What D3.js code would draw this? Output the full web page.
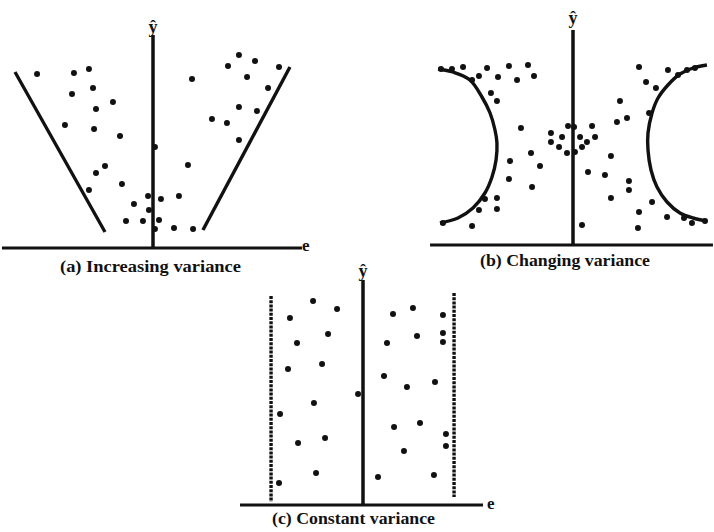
<!DOCTYPE html>
<html><head><meta charset="utf-8">
<script src="https://cdn.jsdelivr.net/npm/d3@7"></script>
<style>body{margin:0;background:#fff}svg{display:block}</style>
</head><body>
<svg id="c" width="714" height="532"></svg>
<script>
// ---- data (e = horizontal residual axis, y = ŷ vertical axis) ----
const captions = ["(a) Increasing variance", "(b) Changing variance", "(c) Constant variance"];
const axisLabelY = "ŷ";
const axisLabelE = "e";

// Panel (a): increasing variance
const pointsA = [
  [-7.73,8.7],[-5.27,8.75],[-4.27,8.95],[-5.4,7.7],[-4.0,8.0],[-2.67,7.3],[-3.8,6.95],
  [-5.87,6.15],[-3.93,5.95],[-2.2,5.6],[0.13,5.05],[-3.2,4.1],[-3.8,3.75],[-2.07,3.2],
  [-4.27,2.9],[-0.33,2.6],[0.53,2.45],[1.73,2.6],[-1.27,2.2],[-0.27,1.9],[-1.8,1.35],
  [-0.67,1.35],[0.4,1.4],[0.13,0.95],[1.4,1.0],[2.67,0.95],[2.33,4.15],[2.6,8.45],
  [3.93,6.45],[4.93,6.25],[5.73,5.4],[5.73,7.05],[6.93,6.85],[5.0,9.1],[5.73,9.65],
  [6.8,9.35],[6.27,8.55],[8.4,9.05],[7.67,8.0]
];
const boundsA = [
  [[-9.2,8.8],[-3.2,0.8]],
  [[3.33,0.9],[9.13,9.05]]
];
const axisA = [-10.07, 9.93, 10.65]; // eMin, eMax, yMax

// Panel (b): changing variance
const pointsB = [
  [-8.8,8.8],[-8.07,8.8],[-7.33,8.9],[-6.73,8.25],[-6.27,8.45],[-5.73,8.85],[-5.0,8.4],
  [-4.27,8.95],[-3.73,8.25],[-3.0,9.0],[-2.6,8.45],[-5.47,7.6],[-5.07,7.2],[-3.47,5.85],
  [-4.2,4.2],[-2.8,4.6],[-2.2,3.95],[-4.27,3.3],[-2.73,2.9],[-5.87,2.3],[-5.07,2.35],
  [-6.27,1.75],[-5.07,1.8],[-6.73,0.95],[-8.67,1.1],[-0.33,5.95],[-1.47,5.6],[-0.73,5.4],
  [-1.47,5.15],[-0.93,4.9],[-0.4,4.6],[0.13,4.65],[0.6,4.9],[0.47,5.4],[0.93,5.15],
  [1.47,5.4],[1.27,5.95],[0.07,5.9],[1.0,3.65],[2.13,3.5],[2.53,4.45],[2.93,6.15],
  [3.6,6.35],[3.13,7.2],[2.53,2.35],[3.73,3.2],[3.73,2.75],[0.6,1.0],[4.4,8.9],
  [4.87,8.15],[5.53,7.85],[6.33,8.75],[7.0,8.5],[7.6,8.75],[8.13,8.85],[5.07,6.6],
  [5.27,2.15],[4.4,1.65],[4.33,0.85],[6.27,1.4],[7.4,1.35],[7.93,1.1],[8.8,1.2]
];
const arcLeftB = [
  [-9.0,8.8],[-8.0,8.65],[-6.87,8.25],[-6.07,7.4],[-5.53,6.6],[-5.2,5.75],[-5.07,5.1],
  [-5.13,4.25],[-5.4,3.4],[-5.87,2.6],[-6.67,1.85],[-7.67,1.35],[-8.87,1.1]
];
const arcRightB = [
  [8.93,9.0],[8.0,8.85],[7.13,8.55],[6.33,8.0],[5.67,7.35],[5.27,6.6],[5.0,5.6],
  [5.0,4.75],[5.2,3.75],[5.6,2.9],[6.27,2.15],[7.13,1.6],[8.0,1.35],[8.93,1.2]
];
const axisB = [-9.53, 9.33, 10.75];

// Panel (c): constant variance
const pointsC = [
  [-3.33,10.2],[-1.73,9.8],[-4.87,9.35],[-2.33,8.55],[-4.4,8.1],[-2.73,7.05],[-5.0,6.8],
  [-0.33,5.55],[-3.27,5.1],[-5.53,4.55],[-2.53,3.35],[-4.33,3.1],[-3.13,1.6],[-5.6,1.1],
  [3.33,9.85],[2.0,9.55],[5.33,9.5],[3.6,8.45],[5.33,8.6],[5.33,8.15],[1.6,8.1],
  [1.4,6.45],[4.8,6.15],[2.93,5.9],[3.8,4.1],[2.07,3.9],[5.53,3.55],[5.53,2.95],
  [2.73,2.7],[1.0,1.4],[4.73,1.5]
];
const boundsC = [
  [[-6.13,10.45],[-6.13,0.15]],
  [[6.07,10.6],[6.07,0.4]]
];
const axisC = [-8.2, 8.0, 11.25];

// ---- drawing ----
const svg = d3.select("#c");
const ink = "#111";

function makeScales(x0, x1, yBase, yTop) {
  return {
    x: d3.scaleLinear().domain([-10, 10]).range([x0, x1]),
    y: d3.scaleLinear().domain([0, 10]).range([yBase, yTop])
  };
}

function drawAxes(g, s, ax, showE, yLabBase, eLab) {
  g.append("line")
    .attr("x1", s.x(ax[0])).attr("x2", s.x(ax[1]))
    .attr("y1", s.y(0)).attr("y2", s.y(0))
    .attr("stroke", ink).attr("stroke-width", 3);
  g.append("line")
    .attr("x1", s.x(0)).attr("x2", s.x(0))
    .attr("y1", s.y(0) + 1).attr("y2", s.y(ax[2]))
    .attr("stroke", ink).attr("stroke-width", 3.5);
  g.append("text").text(axisLabelY)
    .attr("x", s.x(0)).attr("y", yLabBase)
    .attr("text-anchor", "middle")
    .attr("font-family", "Liberation Serif, serif").attr("font-weight", "bold")
    .attr("font-size", 18).attr("fill", ink);
  if (showE) {
    g.append("text").text(axisLabelE)
      .attr("x", eLab[0]).attr("y", eLab[1])
      .attr("font-family", "Liberation Serif, serif").attr("font-weight", "bold")
      .attr("font-size", 17).attr("fill", ink);
  }
}

function drawPoints(g, s, pts) {
  g.selectAll("circle.p").data(pts).enter().append("circle")
    .attr("class", "p")
    .attr("cx", d => s.x(d[0])).attr("cy", d => s.y(d[1]))
    .attr("r", 3).attr("fill", ink);
}

function caption(text, cx, base, width) {
  svg.append("text").text(text)
    .attr("x", cx).attr("y", base)
    .attr("text-anchor", "middle")
    .attr("font-family", "Liberation Serif, serif")
    .attr("font-weight", "bold")
    .attr("font-size", 17).attr("fill", ink)
    .attr("textLength", width).attr("lengthAdjust", "spacingAndGlyphs");
}

const line = (s) => d3.line().x(d => s.x(d[0])).y(d => s.y(d[1]));

// Panel A
const sA = makeScales(3, 303, 248, 48);
const gA = svg.append("g");
boundsA.forEach(b => gA.append("path").attr("d", line(sA)(b))
  .attr("stroke", ink).attr("stroke-width", 3.4).attr("fill", "none"));
drawAxes(gA, sA, axisA, true, 33, [302, 251]);
drawPoints(gA, sA, pointsA);
caption(captions[0], 150.5, 272, 181);

// Panel B
const sB = makeScales(423, 723, 245, 45);
const gB = svg.append("g");
[arcLeftB, arcRightB].forEach(a => gB.append("path")
  .attr("d", line(sB).curve(d3.curveCatmullRom)(a))
  .attr("stroke", ink).attr("stroke-width", 3.4).attr("fill", "none"));
drawAxes(gB, sB, axisB, false, 24, null);
drawPoints(gB, sB, pointsB);
caption(captions[1], 565, 266, 170);

// Panel C
const sC = makeScales(213, 513, 505, 305);
const gC = svg.append("g");
boundsC.forEach(b => gC.append("path").attr("d", line(sC)(b))
  .attr("stroke", ink).attr("stroke-width", 3.4).attr("stroke-dasharray", "3,1.2")
  .attr("fill", "none"));
drawAxes(gC, sC, axisC, true, 277, [487, 509]);
drawPoints(gC, sC, pointsC);
caption(captions[2], 353.5, 524, 163);
</script>
</body></html>
